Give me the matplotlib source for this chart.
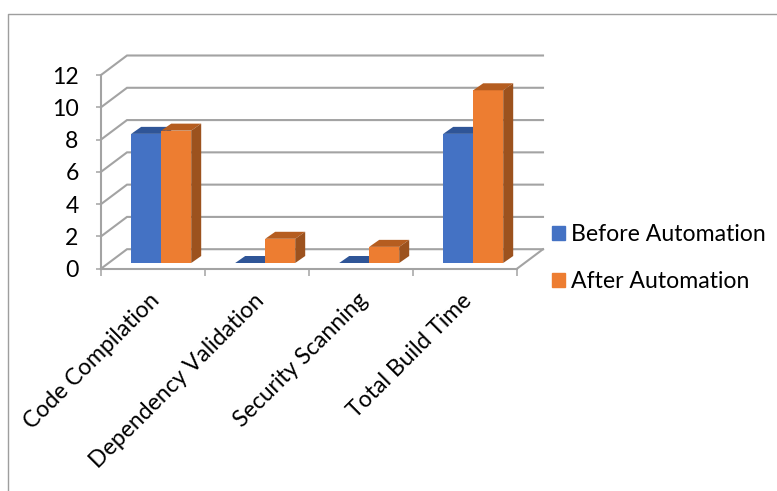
import numpy as np
import matplotlib
matplotlib.use("Agg")
import matplotlib.pyplot as plt
from matplotlib.lines import Line2D
from matplotlib.patches import Patch, Polygon
from matplotlib.transforms import ScaledTranslation

categories = ["Code Compilation", "Dependency Validation", "Security Scanning", "Total Build Time"]
before = [8.0, 0.0, 0.0, 8.0]
after = [8.2, 1.5, 1.0, 10.7]
y_ticks = [0, 2, 4, 6, 8, 10, 12]

W, H = 777, 491
GRID = "#a3a3a3"
BLUE = ("#4472c4", "#2f5597", "#2f5597")
ORANGE = ("#ed7d31", "#b55d20", "#9c521e")
FS = 16.6

plt.rcParams["font.family"] = ["Lato", "DejaVu Sans"]

fig = plt.figure(figsize=(W / 100, H / 100), dpi=100)
ax = fig.add_axes([101 / W, 1 - 268.7 / H, 416 / W, 193.7 / H])
ax.set_xlim(-0.5, 3.5)
ax.set_ylim(0, 12)
ax.patch.set_visible(False)

# pixels to data units, used for the fake 3d depth
px_x = 4 / 416
px_y = 12 / 193.7
wall_dx, wall_dy = 26 * px_x, 19.5 * px_y
bar_dx, bar_dy = 10 * px_x, 7 * px_y
inset_dx, inset_dy = 8.2 * px_x, 5.7 * px_y
bar_w = 30 * px_x


def wall_lines():
    for v in y_ticks:
        ax.plot([-0.5, -0.5 + wall_dx, 3.5 + wall_dx], [v, v + wall_dy, v + wall_dy],
                color=GRID, lw=1.5, zorder=1, clip_on=False, solid_joinstyle="miter")
    ax.plot([3.5, 3.5 + wall_dx], [0, wall_dy], color=GRID, lw=1.5, zorder=1, clip_on=False)


def bar_3d(x, values, colors, z):
    front, top, side = colors
    for xi, v in zip(x, values):
        left = xi - bar_w / 2
        right = xi + bar_w / 2
        y0 = inset_dy
        y1 = inset_dy + v
        ax.bar(xi, v, bar_w, bottom=y0, color=front, zorder=z, clip_on=False)
        ax.add_patch(Polygon([(left, y1), (right, y1), (right + bar_dx, y1 + bar_dy), (left + bar_dx, y1 + bar_dy)],
                             closed=True, fc=top, ec="none", zorder=z, clip_on=False))
        if v > 0:
            ax.add_patch(Polygon([(right, y0), (right, y1), (right + bar_dx, y1 + bar_dy), (right + bar_dx, y0 + bar_dy)],
                                 closed=True, fc=side, ec="none", zorder=z, clip_on=False))


wall_lines()
x = np.arange(len(categories))
bar_3d(x + inset_dx - bar_w / 2, before, BLUE, 3)
bar_3d(x + inset_dx + bar_w / 2, after, ORANGE, 4)

for s in ["top", "right"]:
    ax.spines[s].set_visible(False)
for s in ["left", "bottom"]:
    ax.spines[s].set_color(GRID)
    ax.spines[s].set_linewidth(1.5)

ax.set_yticks(y_ticks)
ax.tick_params(axis="y", length=3.6, width=1.1, color=GRID, pad=12.5, labelsize=FS, labelcolor="black")
ax.set_xticks(np.arange(-0.5, 4, 1))
ax.set_xticklabels([])
ax.tick_params(axis="x", which="major", length=5, width=1.1, color=GRID)
ax.set_xticks(x, minor=True)
ax.set_xticklabels(categories, minor=True, rotation=45, ha="right", va="top",
                   rotation_mode="anchor", fontsize=FS)
ax.tick_params(axis="x", which="minor", length=0, pad=15)
shift = ScaledTranslation(-4 / 100, 0, fig.dpi_scale_trans)
for lab in ax.get_xticklabels(minor=True):
    lab.set_transform(lab.get_transform() + shift)

handles = [Patch(color=BLUE[0], label="Before Automation"), Patch(color=ORANGE[0], label="After Automation")]
fig.legend(handles=handles, loc="center left", bbox_to_anchor=(545 / W, 1 - 258 / H), frameon=False,
           fontsize=FS, handlelength=0.56, handleheight=0.56, handletextpad=0.26, labelspacing=1.13,
           borderpad=0.3, borderaxespad=0)

# outer frame: only the top and left edges are drawn
fig.add_artist(Line2D([8 / W, 8 / W, 1], [0, 1 - 14 / H, 1 - 14 / H], color="#9e9e9e", lw=1.0))

fig.savefig("out.png", dpi=100)
